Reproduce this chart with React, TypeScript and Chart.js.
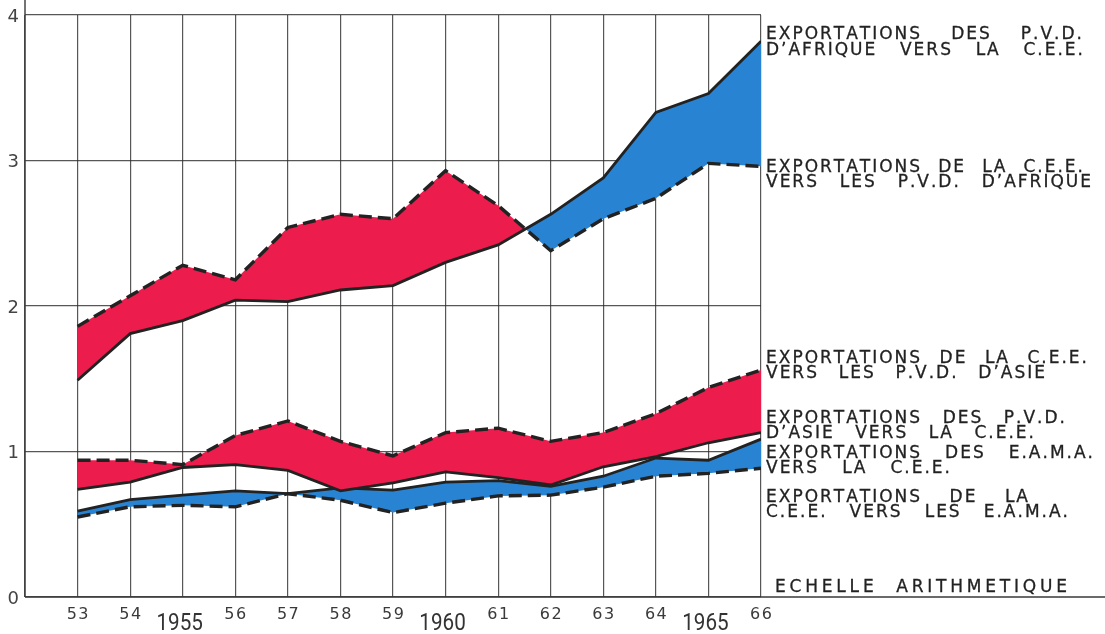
import React, { useEffect, useRef } from "react";
import { Chart, registerables } from "chart.js";

Chart.register(...registerables);

// ---- DATA ----
const years = [53, 54, 55, 56, 57, 58, 59, 60, 61, 62, 63, 64, 65, 66];

// Afrique (P.V.D.)
const pvdAfriqueVersCEE = [1.49, 1.81, 1.9, 2.04, 2.03, 2.11, 2.14, 2.3, 2.42, 2.63, 2.88, 3.33, 3.46, 3.82];
const ceeVersPvdAfrique = [1.86, 2.07, 2.28, 2.18, 2.54, 2.63, 2.6, 2.93, 2.69, 2.38, 2.6, 2.74, 2.98, 2.96];

// Asie (P.V.D.)
const pvdAsieVersCEE = [0.74, 0.79, 0.89, 0.91, 0.87, 0.73, 0.785, 0.86, 0.82, 0.77, 0.895, 0.965, 1.06, 1.13];
const ceeVersPvdAsie = [0.94, 0.94, 0.91, 1.11, 1.21, 1.07, 0.97, 1.13, 1.16, 1.07, 1.13, 1.26, 1.44, 1.56];

// E.A.M.A.
const eamaVersCEE = [0.59, 0.67, 0.7, 0.73, 0.71, 0.75, 0.735, 0.79, 0.8, 0.76, 0.83, 0.955, 0.94, 1.085];
const ceeVersEama = [0.55, 0.62, 0.63, 0.62, 0.71, 0.665, 0.58, 0.645, 0.695, 0.7, 0.755, 0.83, 0.85, 0.885];

const yTickValues = [0, 1, 2, 3, 4];
const xSmallTicks = [53, 54, 56, 57, 58, 59, 61, 62, 63, 64, 66];
const xBigTicks = [55, 60, 65];
const xBigLabels = ["1955", "1960", "1965"];

const seriesTexts = [
  ["EXPORTATIONS DES P.V.D.", "D’AFRIQUE VERS LA C.E.E."],
  ["EXPORTATIONS DE LA C.E.E.", "VERS LES P.V.D. D’AFRIQUE"],
  ["EXPORTATIONS DE LA C.E.E.", "VERS LES P.V.D. D’ASIE"],
  ["EXPORTATIONS DES P.V.D.", "D’ASIE VERS LA C.E.E."],
  ["EXPORTATIONS DES E.A.M.A.", "VERS LA C.E.E."],
  ["EXPORTATIONS DE LA", "C.E.E. VERS LES E.A.M.A."],
];
const scaleNote = "ECHELLE ARITHMETIQUE";

// ---- LAYOUT (pixel positions of the text blocks) ----
const textLayout = [
  { baselines: [39, 55], rights: [1082, 1083] },
  { baselines: [172, 187], rights: [1083, 1091] },
  { baselines: [363, 378], rights: [1087, 1045] },
  { baselines: [423, 438], rights: [1065, 1034] },
  { baselines: [458, 473], rights: [1093, 950] },
  { baselines: [502, 517], rights: [1028, 1068] },
];
const textLeft = 766;
const noteLayout = { left: 775, right: 1067, baseline: 592 };

const RED = "rgb(236, 28, 76)";
const BLUE = "rgb(40, 132, 210)";
const INK = "#222";
const GRID = "rgba(45,45,45,0.8)";

function charsWidth(ctx: CanvasRenderingContext2D, w: string, sp: number) {
  let t = 0;
  for (const ch of w) t += ctx.measureText(ch).width;
  return t + sp * (w.length - 1);
}
function drawSpaced(ctx: CanvasRenderingContext2D, w: string, x: number, y: number, sp: number, stroke = false) {
  for (const ch of w) {
    ctx.fillText(ch, x, y);
    if (stroke) ctx.strokeText(ch, x, y);
    x += ctx.measureText(ch).width + sp;
  }
}
function drawJustified(ctx: CanvasRenderingContext2D, line: string, left: number, right: number, y: number, sp: number) {
  const words = line.split(" ");
  const widths = words.map((w) => charsWidth(ctx, w, sp));
  const total = widths.reduce((a, b) => a + b, 0);
  const gap = words.length > 1 ? (right - left - total) / (words.length - 1) : 0;
  let x = left;
  words.forEach((w, i) => {
    drawSpaced(ctx, w, x, y, sp, true);
    x += widths[i] + gap;
  });
}

const decor = {
  id: "decor",
  afterDraw(chart: any) {
    const { ctx, chartArea } = chart;
    const xs = chart.scales.x;
    const ys = chart.scales.y;
    ctx.save();
    // axis lines
    ctx.strokeStyle = "#3a3a3a";
    ctx.lineWidth = 1.4;
    ctx.beginPath();
    ctx.moveTo(chartArea.left, 0);
    ctx.lineTo(chartArea.left, chartArea.bottom);
    ctx.moveTo(chartArea.left, chartArea.bottom);
    ctx.lineTo(chart.width, chartArea.bottom);
    ctx.stroke();

    // y tick labels
    ctx.fillStyle = "#444";
    ctx.font = "18px 'DejaVu Sans'";
    ctx.textAlign = "right";
    ctx.textBaseline = "alphabetic";
    yTickValues.forEach((v) => {
      ctx.fillText(String(v), chartArea.left - 6, ys.getPixelForValue(v) + 6.5);
    });

    // x small tick labels
    ctx.textAlign = "left";
    ctx.font = "16px 'DejaVu Sans'";
    ctx.fillStyle = "#3a3a3a";
    xSmallTicks.forEach((v) => {
      const s = String(v);
      const w = charsWidth(ctx, s, 1.5);
      drawSpaced(ctx, s, xs.getPixelForValue(v) - w / 2, 619, 1.5);
    });
    // x big labels
    ctx.font = "24px Roboto";
    ctx.fillStyle = "#333";
    ctx.textAlign = "center";
    xBigTicks.forEach((v, i) => {
      ctx.save();
      ctx.translate(xs.getPixelForValue(v) - 3, 630);
      ctx.scale(0.86, 1);
      ctx.fillText(xBigLabels[i], 0, 0);
      ctx.restore();
    });

    // series texts
    ctx.textAlign = "left";
    ctx.fillStyle = "#222";
    ctx.strokeStyle = "#222";
    ctx.lineWidth = 0.3;
    ctx.font = "17px 'DejaVu Sans'";
    seriesTexts.forEach((lines, i) => {
      const lay = textLayout[i];
      lines.forEach((line, j) => {
        drawJustified(ctx, line, textLeft, lay.rights[j], lay.baselines[j], 2.0);
      });
    });
    drawJustified(ctx, scaleNote, noteLayout.left, noteLayout.right, noteLayout.baseline, 3.8);
    ctx.restore();
  },
};

function pts(arr: number[]) {
  return arr.map((y, i) => ({ x: years[i], y }));
}

export default function App() {
  const ref = useRef<HTMLCanvasElement | null>(null);
  useEffect(() => {
    if (!ref.current) return;
    const solid = { borderColor: INK, borderWidth: 2.8, pointRadius: 0, tension: 0, fill: false };
    const dashed = { borderColor: INK, borderWidth: 3.4, borderDash: [13, 6], pointRadius: 0, tension: 0 };
    const chart = new Chart(ref.current, {
      type: "line",
      data: {
        datasets: [
          { label: "Exportations des P.V.D. d'Afrique vers la C.E.E.", data: pts(pvdAfriqueVersCEE), ...solid },
          {
            label: "Exportations de la C.E.E. vers les P.V.D. d'Afrique",
            data: pts(ceeVersPvdAfrique),
            ...dashed,
            fill: { target: 0, above: RED, below: BLUE },
          },
          { label: "Exportations des P.V.D. d'Asie vers la C.E.E.", data: pts(pvdAsieVersCEE), ...solid },
          {
            label: "Exportations de la C.E.E. vers les P.V.D. d'Asie",
            data: pts(ceeVersPvdAsie),
            ...dashed,
            fill: { target: 2, above: RED, below: BLUE },
          },
          { label: "Exportations des E.A.M.A. vers la C.E.E.", data: pts(eamaVersCEE), ...solid },
          {
            label: "Exportations de la C.E.E. vers les E.A.M.A.",
            data: pts(ceeVersEama),
            ...dashed,
            fill: { target: 4, above: RED, below: BLUE },
          },
        ] as any,
      },
      options: {
        responsive: false,
        animation: false,
        devicePixelRatio: 1,
        layout: { padding: { left: 25, top: 15, right: 344, bottom: 37 } },
        plugins: { legend: { display: false }, tooltip: { enabled: false }, filler: { propagate: false } },
        scales: {
          x: {
            type: "linear",
            min: 52,
            max: 66,
            z: 1,
            ticks: { stepSize: 1, display: false },
            grid: { color: GRID, lineWidth: 1.2, drawTicks: false },
            border: { display: false },
          },
          y: {
            min: 0,
            max: 4,
            z: 1,
            ticks: { stepSize: 1, display: false },
            grid: { color: GRID, lineWidth: 1.2, drawTicks: false },
            border: { display: false },
          },
        },
      } as any,
      plugins: [decor],
    });
    return () => chart.destroy();
  }, []);
  return (
    <div style={{ position: "absolute", left: 0, top: 0, width: 1105, height: 634, background: "#fff" }}>
      <canvas ref={ref} width={1105} height={634} style={{ display: "block" }} />
    </div>
  );
}
